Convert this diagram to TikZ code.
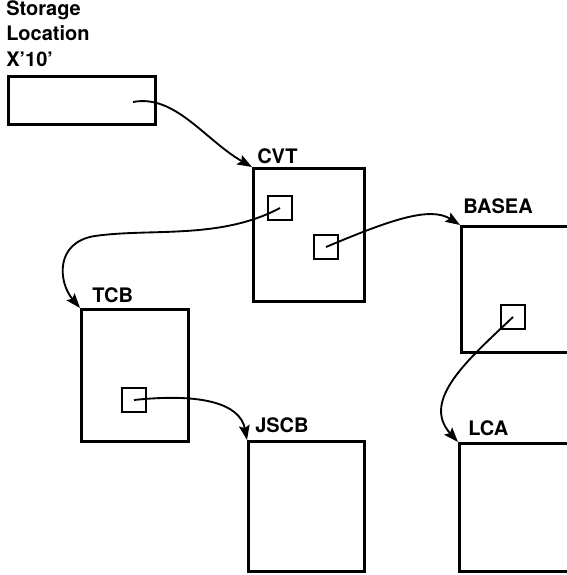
\documentclass[tikz,border=0pt]{standalone}
\usepackage{fontspec}
\setmainfont{TeX Gyre Heros}
\usetikzlibrary{arrows.meta}
\begin{document}
\begin{tikzpicture}[x=0.75pt,y=-0.75pt,
  box/.style={draw, line width=2pt, inner sep=0pt, anchor=north west},
  sq/.style={draw, line width=1.9pt, inner sep=0pt, minimum width=18pt, minimum height=18pt},
  lbl/.style={anchor=base west, inner sep=0pt, font=\bfseries\fontsize{15pt}{18pt}\selectfont},
  link/.style={line width=1.4pt, -{Stealth[length=11pt,width=8pt,inset=2pt]}}]
\useasboundingbox (0,0) rectangle (567,575);
\clip (0,0) rectangle (567,575);
% labels
\node[lbl] (st1) at (6,15) {Storage};
\node[lbl] (st2) at (6,40) {Location};
\node[lbl] (st3) at (6,66) {X’10’};
\node[lbl] (lcvt) at (257,163) {CVT};
\node[lbl] (ltcb) at (92,302) {TCB};
\node[lbl] (ljscb) at (255,432) {JSCB};
\node[lbl] (lbasea) at (463,213) {BASEA};
\node[lbl] (llca) at (468,435) {LCA};
% boxes
\node[box, minimum width=110.25pt, minimum height=36pt] (stor) at (7,75) {};
\node[box, minimum width=83.25pt, minimum height=99.75pt] (cvt) at (252,167) {};
\node[box, minimum width=80.25pt, minimum height=99pt] (tcb) at (80,308) {};
\node[box, minimum width=87pt, minimum height=97.5pt] (jscb) at (247,440) {};
\node[box, minimum width=90pt, minimum height=94.5pt] (basea) at (460,225) {};
\node[box, minimum width=90pt, minimum height=96pt] (lca) at (458,442) {};
% inner pointer fields
\node[sq] (sq1) at (280,208) {};
\node[sq] (sq2) at (326,247) {};
\node[sq] (tsq) at (134,400) {};
\node[sq] (bsq) at (513,317) {};
\coordinate (sp) at (133,102);
% connectors
\draw[link] (sp) .. controls (175,94) and (205,140) .. (cvt.north west);
\draw[link] (sq1.center) .. controls (220,240) and (150,228) .. (95,236)
  .. controls (55,242) and (58,282) .. (tcb.north west);
\draw[link] (sq2.center) .. controls (390,220) and (430,206) .. (basea.north west);
\draw[link] (bsq.center) .. controls (470,358) and (420,400) .. (lca.north west);
\draw[link] (tsq.center) .. controls (200,393) and (240,403) .. (jscb.north west);
\end{tikzpicture}
\end{document}
